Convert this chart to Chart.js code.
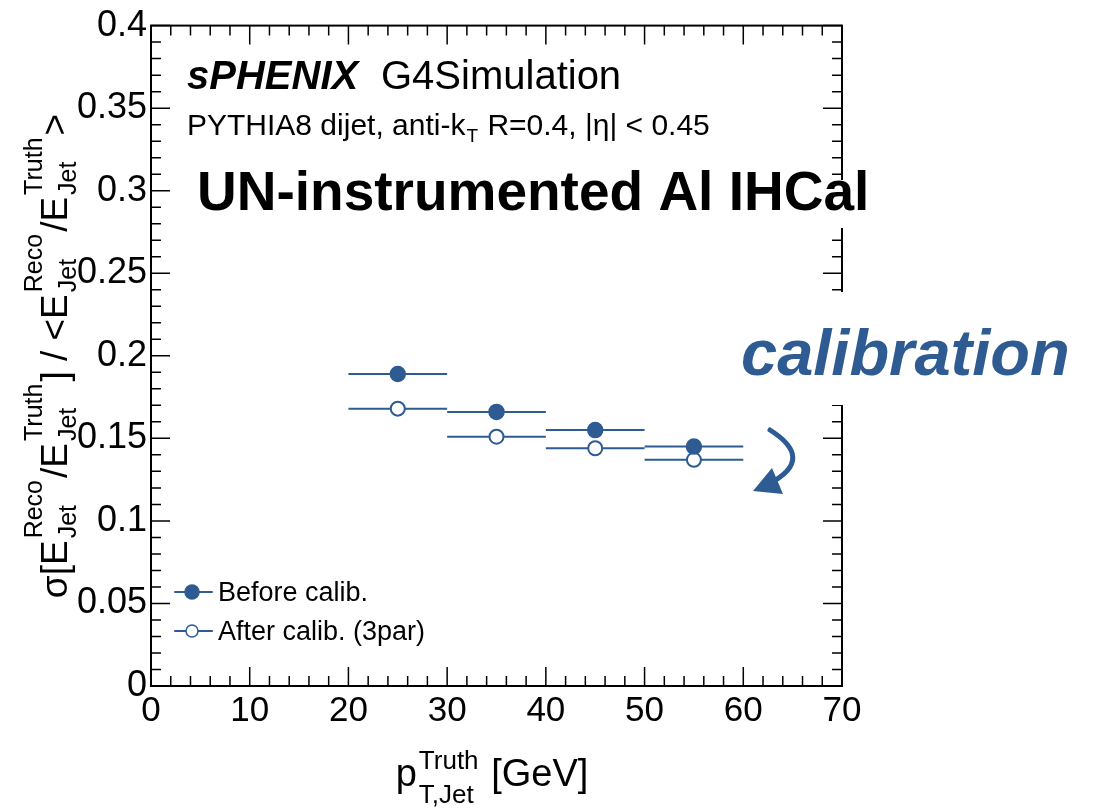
<!DOCTYPE html>
<html>
<head>
<meta charset="utf-8">
<script src="https://cdn.jsdelivr.net/npm/chart.js@4.4.1/dist/chart.umd.min.js"></script>
<style>
  html, body { margin: 0; padding: 0; background: #fff; }
  canvas { display: block; }
</style>
</head>
<body>
<canvas id="chart" width="1102" height="809"></canvas>
<script>
// data
const ptBins = [25, 35, 45, 55];
const ptHalfWidth = [5, 5, 5, 5];
const beforeCalib = [0.189, 0.166, 0.155, 0.145];
const afterCalib = [0.168, 0.151, 0.144, 0.137];
const seriesLabels = ["Before calib.", "After calib. (3par)"];

const xRange = [0, 70];
const yRange = [0, 0.4];

const FONT = '"Liberation Sans", Arial, Helvetica, sans-serif';
const BLUE = "#2d5b92";

function toPoints(vals) {
  return ptBins.map((x, i) => ({ x: x, y: vals[i], xerr: ptHalfWidth[i] }));
}

// text with stacked sup/sub pieces, drawn left to right from x
function richWidth(ctx, parts, f) {
  let w = 0;
  parts.forEach(p => {
    if (p.t) { ctx.font = f.main + "px " + FONT; w += ctx.measureText(p.t).width; }
    else {
      ctx.font = f.small + "px " + FONT;
      w += Math.max(ctx.measureText(p.sup || "").width, ctx.measureText(p.sub || "").width) + f.gap * 2;
    }
  });
  return w;
}
function drawRich(ctx, parts, x, y, f) {
  let cx = x;
  parts.forEach(p => {
    if (p.t) {
      ctx.font = f.main + "px " + FONT;
      ctx.fillText(p.t, cx, y);
      cx += ctx.measureText(p.t).width;
    } else {
      ctx.font = f.small + "px " + FONT;
      if (p.sup) ctx.fillText(p.sup, cx + f.gap, y - f.main * f.up);
      if (p.sub) ctx.fillText(p.sub, cx + f.gap, y + f.main * f.down);
      cx += Math.max(ctx.measureText(p.sup || "").width, ctx.measureText(p.sub || "").width) + f.gap * 2;
    }
  });
}

const yTitle = [{t: "σ[E"}, {sup: "Reco", sub: "Jet"}, {t: "/E"}, {sup: "Truth", sub: "Jet"},
  {t: "] / <E"}, {sup: "Reco", sub: "Jet"}, {t: "/E"}, {sup: "Truth", sub: "Jet"}, {t: ">"}];
const xTitle = [{t: "p"}, {sup: "Truth", sub: "T,Jet"}, {t: " [GeV]"}];

const errorBars = {
  id: "errorBars",
  beforeDatasetsDraw(chart) {
    const ctx = chart.ctx, xs = chart.scales.x, ys = chart.scales.y;
    ctx.save();
    ctx.strokeStyle = BLUE;
    ctx.lineWidth = 2;
    chart.data.datasets.forEach(ds => {
      ds.data.forEach(p => {
        const py = ys.getPixelForValue(p.y);
        ctx.beginPath();
        ctx.moveTo(xs.getPixelForValue(p.x - p.xerr), py);
        ctx.lineTo(xs.getPixelForValue(p.x + p.xerr), py);
        ctx.stroke();
      });
    });
    ctx.restore();
  }
};

const decorations = {
  id: "decorations",
  afterDraw(chart) {
    const ctx = chart.ctx, xs = chart.scales.x, ys = chart.scales.y;
    const { left, right, top, bottom } = chart.chartArea;
    ctx.save();

    // frame with inward ticks on all four sides
    ctx.strokeStyle = "#000";
    ctx.lineWidth = 1.5;
    ctx.beginPath();
    for (let v = xRange[0]; v <= xRange[1]; v += 2) {
      const px = xs.getPixelForValue(v);
      const len = v % 10 === 0 ? 19 : 10;
      ctx.moveTo(px, bottom); ctx.lineTo(px, bottom - len);
      ctx.moveTo(px, top); ctx.lineTo(px, top + len);
    }
    for (let i = 0; i <= 40; i++) {
      const py = ys.getPixelForValue(i / 100);
      const len = i % 5 === 0 ? 19 : 10;
      ctx.moveTo(left, py); ctx.lineTo(left + len, py);
      ctx.moveTo(right, py); ctx.lineTo(right - len, py);
    }
    ctx.stroke();
    ctx.lineWidth = 2;
    ctx.strokeRect(left, top, right - left, bottom - top);

    // header texts
    ctx.fillStyle = "#000";
    ctx.textBaseline = "alphabetic";
    ctx.font = "italic bold 40px " + FONT;
    ctx.fillText("sPHENIX", 187, 89);
    ctx.font = "40px " + FONT;
    ctx.fillText("G4Simulation", 381, 89);

    ctx.font = "30px " + FONT;
    let tx = 187;
    ctx.fillText("PYTHIA8 dijet, anti-k", tx, 135);
    tx += ctx.measureText("PYTHIA8 dijet, anti-k").width;
    ctx.font = "19px " + FONT;
    ctx.fillText("T", tx + 1, 142);
    tx += ctx.measureText("T").width + 2;
    ctx.font = "30px " + FONT;
    ctx.fillText(" R=0.4, |η| < 0.45", tx, 135);

    ctx.fillStyle = "#fff";
    ctx.fillRect(190, 180, 685, 48);
    ctx.fillStyle = "#000";
    ctx.font = "bold 55px " + FONT;
    ctx.fillText("UN-instrumented Al IHCal", 197, 210);

    ctx.fillStyle = "#fff";
    ctx.fillRect(735, 292, 345, 113);
    ctx.fillStyle = BLUE;
    ctx.font = "italic bold 65px " + FONT;
    ctx.fillText("calibration", 741, 375);

    // curved arrow
    ctx.strokeStyle = BLUE;
    ctx.lineWidth = 5;
    ctx.lineCap = "round";
    ctx.beginPath();
    ctx.moveTo(770, 430);
    ctx.bezierCurveTo(792, 444, 806, 462, 774, 481);
    ctx.stroke();
    ctx.beginPath();
    ctx.moveTo(753, 491);
    ctx.lineTo(772, 468);
    ctx.lineTo(783, 494);
    ctx.closePath();
    ctx.fillStyle = BLUE;
    ctx.fill();

    // legend
    const rows = [{ y: 592, fill: BLUE, r: 7 }, { y: 631, fill: "#fff", r: 6 }];
    rows.forEach((row, i) => {
      ctx.strokeStyle = BLUE;
      ctx.lineWidth = 2;
      ctx.beginPath();
      ctx.moveTo(175, row.y); ctx.lineTo(212, row.y);
      ctx.stroke();
      ctx.beginPath();
      ctx.arc(192, row.y, row.r, 0, Math.PI * 2);
      ctx.fillStyle = row.fill;
      ctx.fill();
      ctx.lineWidth = 1.5;
      ctx.stroke();
      ctx.fillStyle = "#000";
      ctx.font = "27px " + FONT;
      ctx.fillText(seriesLabels[i], 218, row.y + 9);
    });

    // axis titles
    ctx.fillStyle = "#000";
    const xf = { main: 38, small: 26, gap: 2, up: 0.44, down: 0.46 };
    const xw = richWidth(ctx, xTitle, xf);
    drawRich(ctx, xTitle, 492 - xw / 2, 786, xf);

    const yf = { main: 37, small: 25, gap: 2, up: 0.68, down: 0.24 };
    ctx.translate(67, 356);
    ctx.rotate(-Math.PI / 2);
    const yw = richWidth(ctx, yTitle, yf);
    drawRich(ctx, yTitle, -yw / 2, 0, yf);

    ctx.restore();
  }
};

new Chart(document.getElementById("chart"), {
  type: "scatter",
  data: {
    datasets: [
      {
        label: seriesLabels[0],
        data: toPoints(beforeCalib),
        pointRadius: 7.5,
        pointBackgroundColor: BLUE,
        pointBorderColor: BLUE,
        pointBorderWidth: 1.5
      },
      {
        label: seriesLabels[1],
        data: toPoints(afterCalib),
        pointRadius: 7,
        pointBackgroundColor: "#fff",
        pointBorderColor: BLUE,
        pointBorderWidth: 2
      }
    ]
  },
  options: {
    responsive: false,
    devicePixelRatio: 1,
    animation: false,
    layout: { padding: { left: 0, top: 24, right: 260, bottom: 0 } },
    plugins: { legend: { display: false }, tooltip: { enabled: false } },
    scales: {
      x: {
        type: "linear",
        min: xRange[0], max: xRange[1],
        grid: { display: false, drawTicks: false },
        border: { display: false },
        ticks: { stepSize: 10, color: "#000", padding: 4, font: { family: FONT, size: 35 } },
        afterFit: s => { s.height = 123; }
      },
      y: {
        type: "linear",
        min: yRange[0], max: yRange[1],
        grid: { display: false, drawTicks: false },
        border: { display: false },
        ticks: {
          stepSize: 0.05, color: "#000", padding: 4, font: { family: FONT, size: 36 },
          callback: v => String(+v.toFixed(2))
        },
        afterFit: s => { s.width = 151; }
      }
    }
  },
  plugins: [errorBars, decorations]
});
</script>
</body>
</html>
